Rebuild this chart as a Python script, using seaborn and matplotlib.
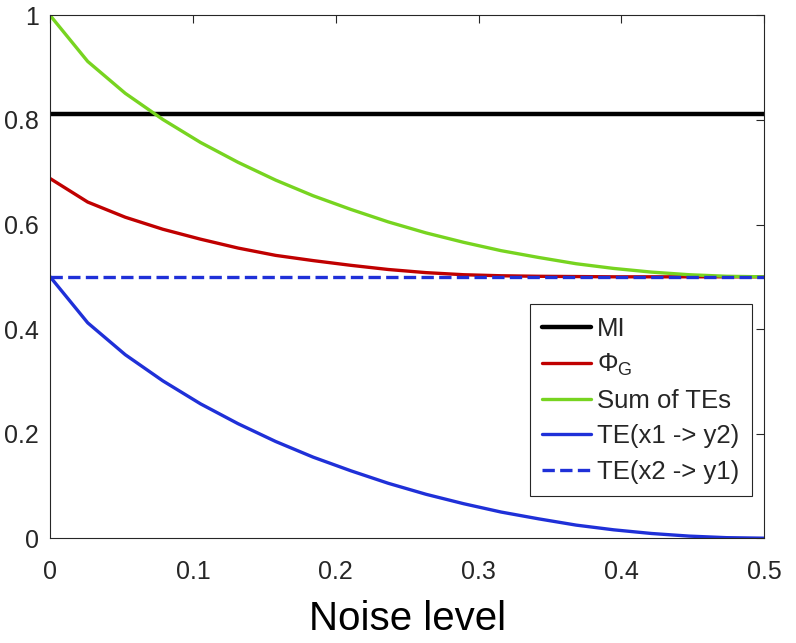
import seaborn as sns
import matplotlib.pyplot as plt
import pandas as pd

noise = [0.0, 0.0263, 0.0526, 0.0789, 0.1053, 0.1316, 0.1579, 0.1842, 0.2105, 0.2368,
         0.2632, 0.2895, 0.3158, 0.3421, 0.3684, 0.3947, 0.4211, 0.4474, 0.4737, 0.5]
mi = [0.811, 0.811, 0.811, 0.811, 0.811, 0.811, 0.811, 0.811, 0.811, 0.811,
      0.811, 0.811, 0.811, 0.811, 0.811, 0.811, 0.811, 0.811, 0.811, 0.811]
phi_g = [0.688, 0.643, 0.614, 0.591, 0.572, 0.555, 0.541, 0.531, 0.522, 0.514,
         0.508, 0.504, 0.502, 0.501, 0.5005, 0.500, 0.500, 0.500, 0.500, 0.500]
sum_te = [1.000, 0.912, 0.851, 0.801, 0.757, 0.719, 0.685, 0.655, 0.629, 0.605,
          0.584, 0.566, 0.550, 0.537, 0.525, 0.516, 0.509, 0.504, 0.501, 0.500]
te_x1_y2 = [0.500, 0.412, 0.351, 0.301, 0.257, 0.219, 0.185, 0.155, 0.129, 0.105,
            0.084, 0.066, 0.050, 0.037, 0.025, 0.016, 0.009, 0.004, 0.001, 0.000]
te_x2_y1 = [0.5, 0.5, 0.5, 0.5, 0.5, 0.5, 0.5, 0.5, 0.5, 0.5,
            0.5, 0.5, 0.5, 0.5, 0.5, 0.5, 0.5, 0.5, 0.5, 0.5]

etiquetas = ['MI', r'$\Phi_\mathrm{G}$', 'Sum of TEs', 'TE(x1 -> y2)', 'TE(x2 -> y1)']
cores = ['#000000', '#C00000', '#77D420', '#1F30D8', '#1F30D8']
larguras = [3.2, 2.4, 2.4, 2.4, 2.4]
estilos = ['-', '-', '-', '-', '--']

sns.set_style('white')
plt.rcParams['font.family'] = ['Liberation Sans', 'DejaVu Sans']
plt.rcParams['mathtext.fontset'] = 'custom'
plt.rcParams['mathtext.rm'] = 'Liberation Sans'
plt.rcParams['mathtext.it'] = 'Liberation Sans'

df = pd.DataFrame({'Noise level': noise, 'MI': mi, 'phi': phi_g, 'sum': sum_te,
                   'te12': te_x1_y2, 'te21': te_x2_y1})
colunas = ['MI', 'phi', 'sum', 'te12', 'te21']

fig, ax = plt.subplots(figsize=(7.96, 6.43), dpi=100)
fig.subplots_adjust(left=0.063, right=0.960, top=0.976, bottom=0.163)

for col, rotulo, cor, lw, ls in zip(colunas, etiquetas, cores, larguras, estilos):
    sns.lineplot(data=df, x='Noise level', y=col, ax=ax, color=cor, linewidth=lw,
                 linestyle=ls, label=rotulo)

ax.set_xlim(0, 0.5)
ax.set_ylim(0, 1)
ax.set_xticks([0, 0.1, 0.2, 0.3, 0.4, 0.5])
ax.set_xticklabels(['0', '0.1', '0.2', '0.3', '0.4', '0.5'])
ax.set_yticks([0, 0.2, 0.4, 0.6, 0.8, 1])
ax.set_yticklabels(['0', '0.2', '0.4', '0.6', '0.8', '1'])
ax.set_ylabel('')
ax.set_xlabel('Noise level', fontsize=29, labelpad=11, color='black')
ax.tick_params(direction='in', length=6, width=0.8, top=True, right=True,
               labelsize=18, colors='#262626')
ax.tick_params(axis='x', pad=16)
ax.tick_params(axis='y', pad=8)
for s in ax.spines.values():
    s.set_color('#262626')
    s.set_linewidth(0.8)

leg = ax.legend(loc='lower right', bbox_to_anchor=(0.983, 0.080), fontsize=18.5,
                frameon=True, fancybox=False, framealpha=1, edgecolor='#262626',
                handlelength=1.87, labelspacing=0.43, borderpad=0.5, handletextpad=0.25,
                borderaxespad=0)
leg.get_frame().set_linewidth(0.8)

fig.savefig('out.png', dpi=100)
